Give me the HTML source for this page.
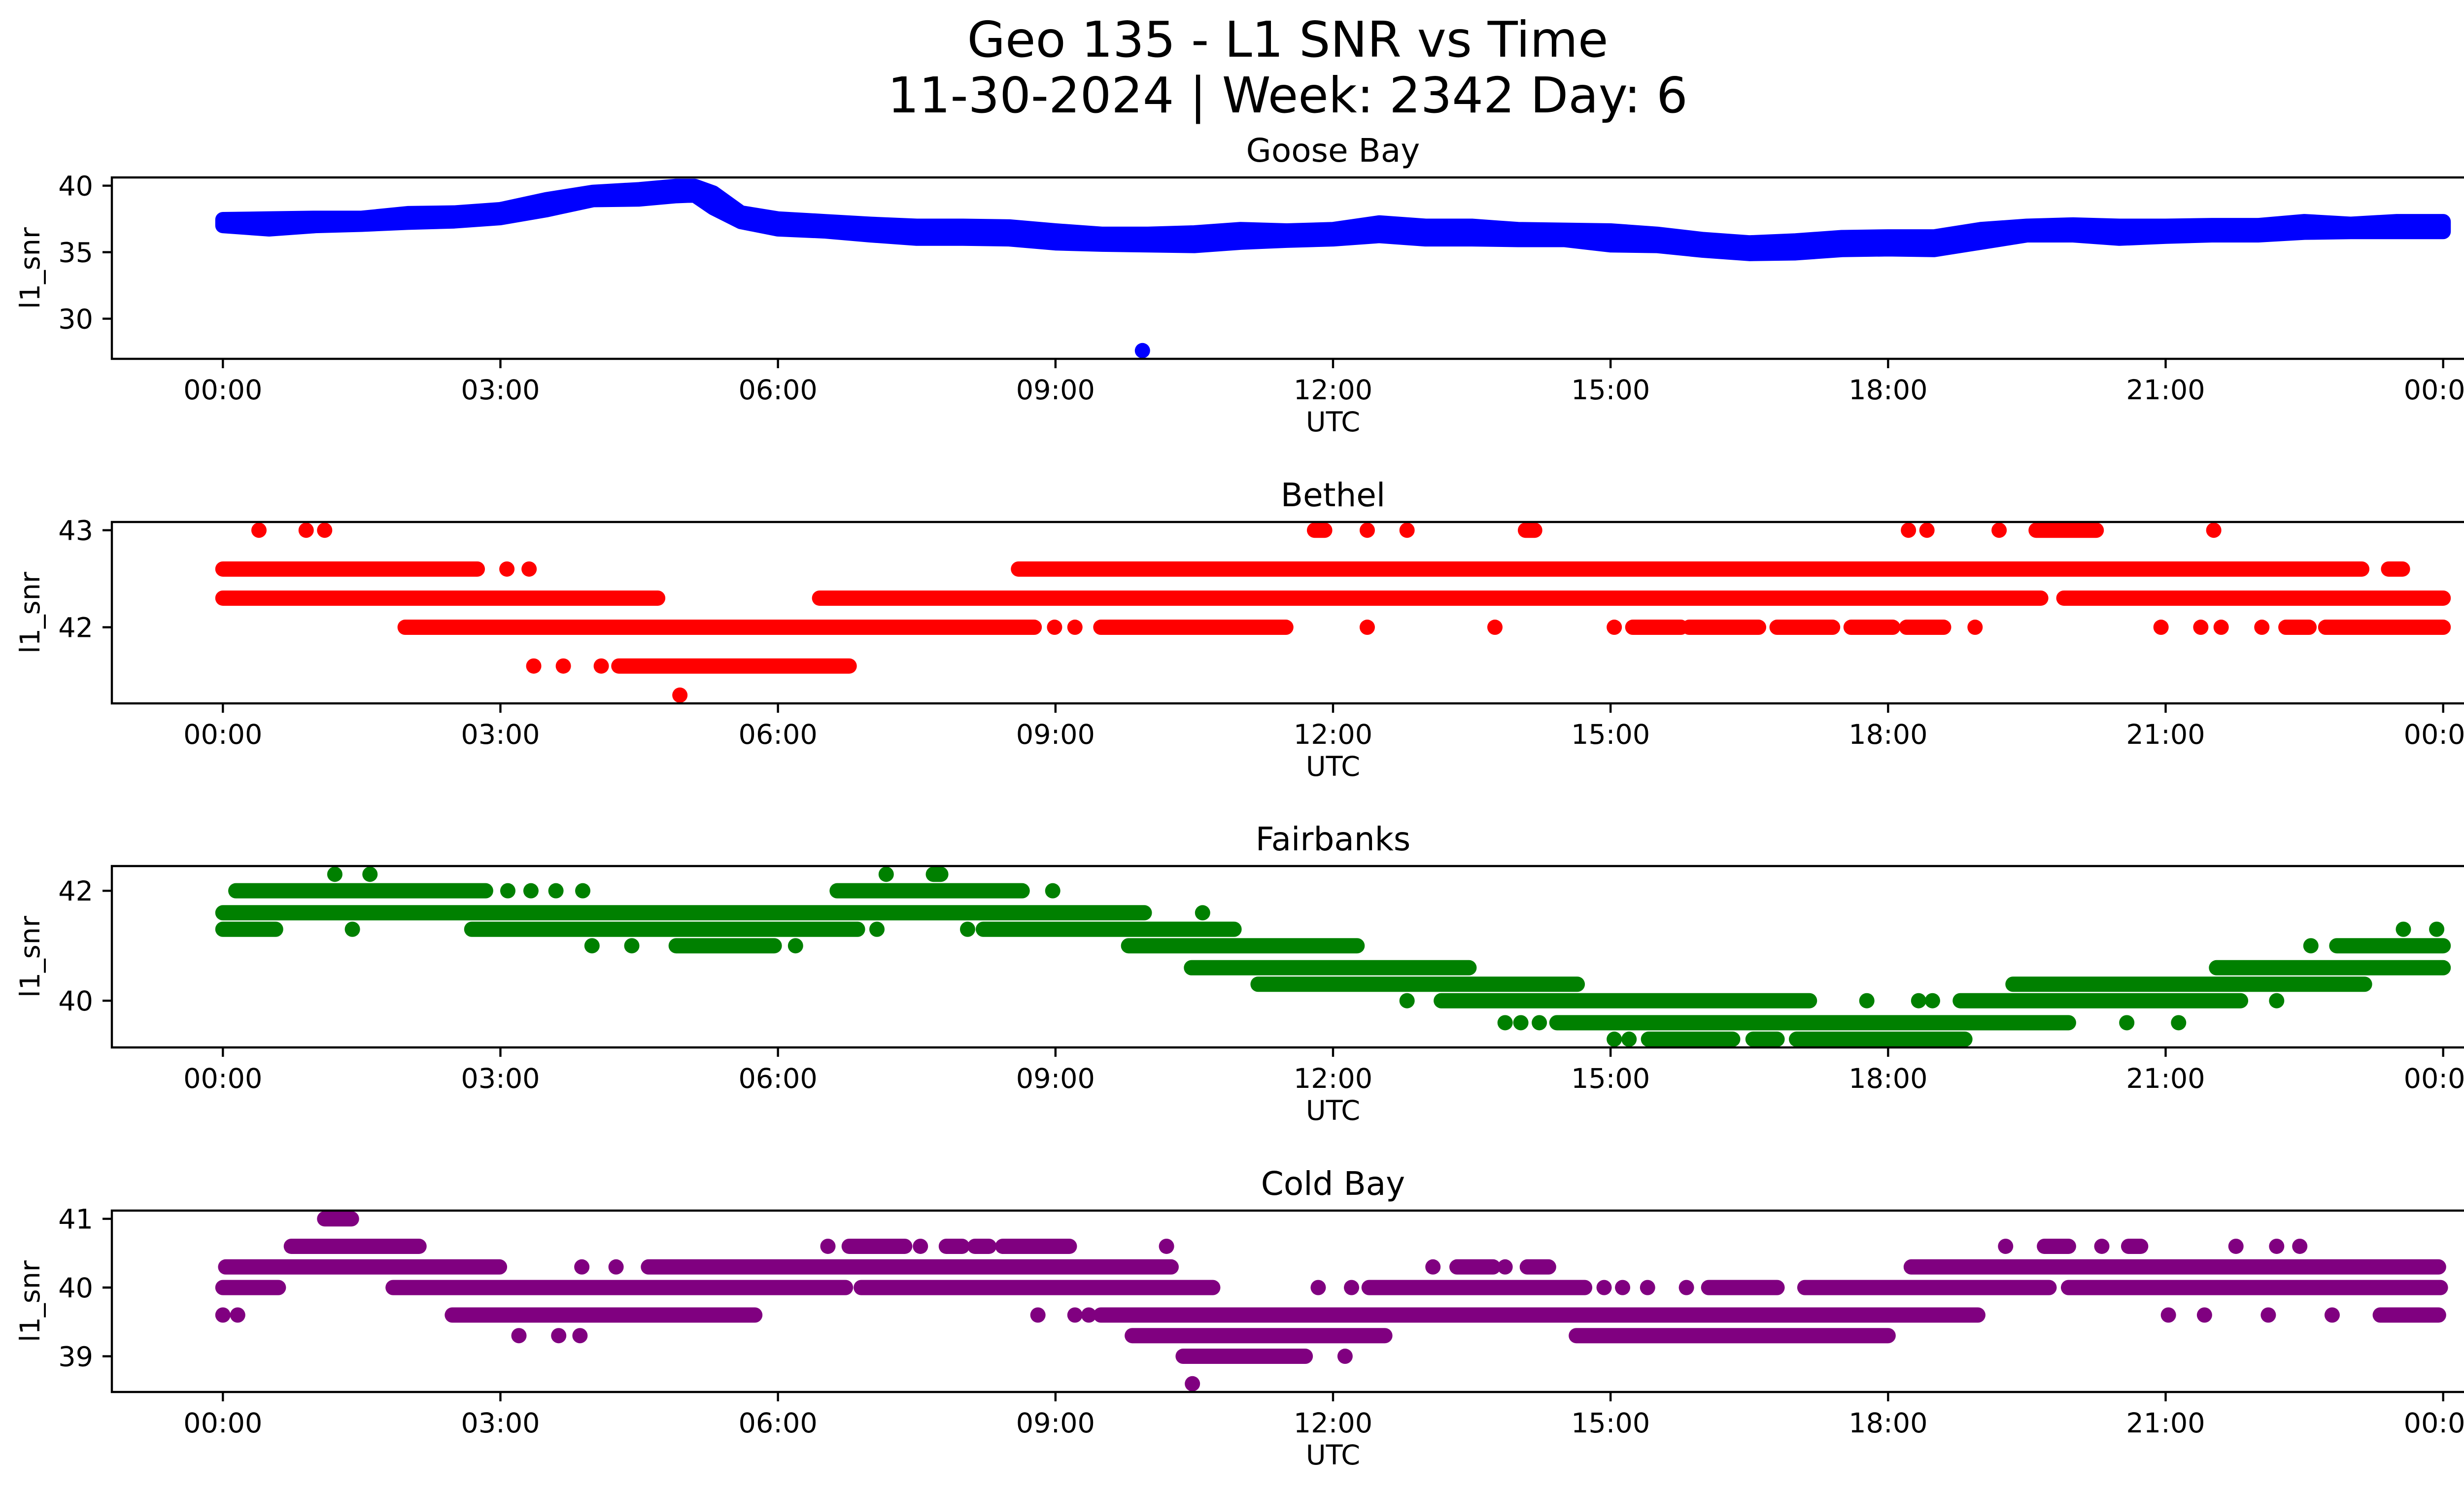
<!DOCTYPE html>
<html><head><meta charset="utf-8"><style>
html,body{margin:0;padding:0;background:#fff;}
svg{display:block;font-family:"DejaVu Sans","Liberation Sans",sans-serif;}
</style></head><body>
<svg id="fig" width="5226" height="3033" viewBox="0 0 5226 3033" xmlns="http://www.w3.org/2000/svg">
<rect width="5226" height="3033" fill="#fff"/>
<text x="2613" y="115" font-size="100" text-anchor="middle">Geo 135 - L1 SNR vs Time</text>
<text x="2613" y="228" font-size="100" text-anchor="middle">11-30-2024 | Week: 2342 Day: 6</text>
<g id="plots"></g>
</svg>
<script>
// ---- shared axis data ----
const xTickHours = [0,3,6,9,12,15,18,21,24];
const xTickLabels = ["00:00","03:00","06:00","09:00","12:00","15:00","18:00","21:00","00:00"];

// ---- Goose Bay (band envelope) ----
const gooseTimes = [0,0.5,1,1.5,2,2.5,3,3.5,4,4.5,4.9,5.1,5.3,5.6,6,6.5,7,7.5,8,8.5,9,9.5,10,10.5,11,11.5,12,12.5,13,13.5,14,14.5,15,15.5,16,16.5,17,17.5,18,18.5,19,19.5,20,20.5,21,21.5,22,22.5,23,23.5,24];
const gooseHigh = [37.45,37.5,37.55,37.55,37.9,37.95,38.2,38.95,39.5,39.7,39.95,39.95,39.45,37.95,37.5,37.3,37.1,36.95,36.95,36.9,36.6,36.35,36.35,36.45,36.7,36.6,36.7,37.2,36.95,36.95,36.7,36.65,36.6,36.35,35.95,35.7,35.85,36.1,36.15,36.15,36.7,36.95,37.05,36.95,36.95,37.0,37.0,37.3,37.1,37.3,37.3];
const gooseLow = [37.0,36.75,37.0,37.1,37.25,37.35,37.6,38.2,38.95,39.0,39.25,39.3,38.35,37.3,36.75,36.6,36.3,36.05,36.05,36.0,35.7,35.6,35.55,35.5,35.75,35.9,36.0,36.25,36.0,36.0,35.95,35.95,35.55,35.5,35.15,34.9,34.95,35.2,35.25,35.2,35.75,36.3,36.3,36.05,36.2,36.3,36.3,36.5,36.55,36.55,36.55];
const gooseOutlierTime = [9.94];
const gooseOutlierValue = [27.6];
const gooseYTicks = [30,35,40];

// ---- Bethel runs ----
const bethelStart = [0.39,0.9,1.1,11.8,12.37,12.8,14.08,18.22,18.42,19.2,19.6,21.52, 0,3.07,3.31,8.6,23.41, 0,6.45,19.9, 1.97,8.99,9.21,9.49,12.37,13.75,15.04,15.24,15.85,16.8,17.6,18.2,18.94,20.95,21.38,21.6,22.04,22.3,22.73, 3.36,3.68,4.09,4.28, 4.94];
const bethelEnd   = [0.39,0.9,1.1,11.91,12.37,12.8,14.18,18.22,18.42,19.2,20.25,21.52, 2.75,3.07,3.31,23.12,23.56, 4.7,19.65,24, 8.77,8.99,9.21,11.49,12.37,13.75,15.04,15.76,16.6,17.4,18.05,18.6,18.94,20.95,21.38,21.6,22.04,22.55,24, 3.36,3.68,4.09,6.77, 4.94];
const bethelValue = [43,43,43,43,43,43,43,43,43,43,43,43, 42.6,42.6,42.6,42.6,42.6, 42.3,42.3,42.3, 42,42,42,42,42,42,42,42,42,42,42,42,42,42,42,42,42,42,42, 41.6,41.6,41.6,41.6, 41.3];
const bethelYTicks = [42,43];

// ---- Fairbanks runs ----
const fairStart = [1.21,1.59,7.17,7.68, 0.14,3.08,3.33,3.6,3.89,6.64,8.97, 0,10.59, 0,1.4,2.69,7.07,8.05,8.22,23.57,23.93, 3.99,4.42,4.9,6.19,9.79,22.57,22.85, 10.47,21.55, 11.19,19.35, 12.8,13.17,17.77,18.33,18.48,18.78,22.2, 13.86,14.03,14.23,14.42,20.58,21.14, 15.04,15.2,15.41,16.54,17.01];
const fairEnd   = [1.21,1.59,7.17,7.76, 2.84,3.08,3.33,3.6,3.89,8.64,8.97, 9.96,10.59, 0.57,1.4,6.86,7.07,8.05,10.93,23.57,23.93, 3.99,4.42,5.96,6.19,12.26,22.57,24, 13.47,24, 14.64,23.15, 12.8,17.15,17.77,18.33,18.48,21.81,22.2, 13.86,14.03,14.23,19.95,20.58,21.14, 15.04,15.2,16.32,16.8,18.83];
const fairValue = [42.3,42.3,42.3,42.3, 42,42,42,42,42,42,42, 41.6,41.6, 41.3,41.3,41.3,41.3,41.3,41.3,41.3,41.3, 41,41,41,41,41,41,41, 40.6,40.6, 40.3,40.3, 40,40,40,40,40,40,40, 39.6,39.6,39.6,39.6,39.6,39.6, 39.3,39.3,39.3,39.3,39.3];
const fairYTicks = [40,42];

// ---- Cold Bay runs ----
const coldStart = [1.1, 0.74,6.54,6.77,7.54,7.82,8.13,8.43,10.2,19.27,19.69,20.31,20.6,21.76,22.2,22.45, 0.03,3.88,4.25,4.6,13.08,13.34,13.86,14.1,18.25, 0,1.84,6.9,11.84,12.2,12.39,14.93,15.13,15.4,15.82,16.06,17.1,19.95, 0,0.16,2.48,8.81,9.21,9.36,9.49,21.03,21.42,22.11,22.8,23.32, 3.2,3.63,3.86,9.83,14.63, 10.38,12.13, 10.48];
const coldEnd   = [1.39, 2.12,6.54,7.37,7.54,7.99,8.28,9.15,10.2,19.27,19.95,20.31,20.73,21.76,22.2,22.45, 2.99,3.88,4.25,10.25,13.08,13.73,13.86,14.33,23.95, 0.6,6.73,10.7,11.84,12.2,14.72,14.93,15.13,15.4,15.82,16.8,19.74,23.97, 0,0.16,5.75,8.81,9.21,9.36,18.97,21.03,21.42,22.11,22.8,23.95, 3.2,3.63,3.86,12.56,18.0, 11.7,12.13, 10.48];
const coldValue = [41, 40.6,40.6,40.6,40.6,40.6,40.6,40.6,40.6,40.6,40.6,40.6,40.6,40.6,40.6,40.6, 40.3,40.3,40.3,40.3,40.3,40.3,40.3,40.3,40.3, 40,40,40,40,40,40,40,40,40,40,40,40,40, 39.6,39.6,39.6,39.6,39.6,39.6,39.6,39.6,39.6,39.6,39.6,39.6, 39.3,39.3,39.3,39.3,39.3, 39,39, 38.6];
const coldYTicks = [39,40,41];

const NS = "http://www.w3.org/2000/svg";
const root = document.getElementById("plots");
const AX_L = 227, AX_R = 5183, AX_H = 368, R = 15.5;
const X_MIN = -1.2, X_MAX = 25.2;
function xScale(h){ return AX_L + (h - X_MIN) / (X_MAX - X_MIN) * (AX_R - AX_L); }
function mk(tag, attrs, parent){
  const e = document.createElementNS(NS, tag);
  for (const k in attrs) e.setAttribute(k, attrs[k]);
  parent.appendChild(e);
  return e;
}
function yScaleFor(top, lo, hi){ return v => top + (hi - v) / (hi - lo) * AX_H; }

function drawAxes(g, top, yScale, yTicks, title, key){
  const t = mk("text", {x:(AX_L+AX_R)/2, y: top-32, "font-size":66, "text-anchor":"middle"}, g);
  t.textContent = title;
  
  
  xTickHours.forEach((h,i) => {
    const x = xScale(h);
    const tk = mk("line", {x1:x, x2:x, y1:top+AX_H, y2:top+AX_H+19, stroke:"#000", "stroke-width":4.4}, g);
    
    
    const lb = mk("text", {x:x, y:top+AX_H+82, "font-size":55.6, "text-anchor":"middle"}, g);
    lb.textContent = xTickLabels[i];
    
    
  });
  yTicks.forEach(v => {
    const y = yScale(v);
    const tk = mk("line", {x1:AX_L-19, x2:AX_L, y1:y, y2:y, stroke:"#000", "stroke-width":4.4}, g);
    
    
    const lb = mk("text", {x:AX_L-38, y:y+20, "font-size":55.6, "text-anchor":"end"}, g);
    lb.textContent = String(v);
    
    
  });
  const xl = mk("text", {x:(AX_L+AX_R)/2, y: top+AX_H+147, "font-size":55.6, "text-anchor":"middle"}, g);
  xl.textContent = "UTC";
  
  
  const cy = top + AX_H/2;
  const yl = mk("text", {x:80, y:cy, "font-size":55.6, "text-anchor":"middle", transform:`rotate(-90 80 ${cy})`}, g);
  yl.textContent = "l1_snr";
  
  
  const fr = mk("rect", {x:AX_L, y:top, width:AX_R-AX_L, height:AX_H, fill:"none", stroke:"#000", "stroke-width":4.4}, g);
  
  
}

function drawRuns(g, ys, starts, ends, values, color, key){
  for (let i = 0; i < starts.length; i++){
    const y = ys(values[i]);
    if (starts[i] === ends[i]){
      const c = mk("circle", {cx:xScale(starts[i]), cy:y, r:R, fill:color}, g);
      
      
    } else {
      const l = mk("line", {x1:xScale(starts[i]), x2:xScale(ends[i]), y1:y, y2:y, stroke:color, "stroke-width":2*R, "stroke-linecap":"round"}, g);
      
      
    }
  }
}

// Goose Bay
(function(){
  const top = 360, ys = yScaleFor(top, 26.98, 40.62);
  const g = mk("g", {}, root);
  
  
  const pts = [];
  gooseTimes.forEach((t,i) => pts.push(xScale(t)+","+ys(gooseHigh[i])));
  for (let i = gooseTimes.length-1; i >= 0; i--) pts.push(xScale(gooseTimes[i])+","+ys(gooseLow[i]));
  const band = mk("polygon", {points:pts.join(" "), fill:"#0000ff", stroke:"#0000ff", "stroke-width":2*R, "stroke-linejoin":"round"}, g);
  
  
  gooseOutlierTime.forEach((t,i) => {
    const c = mk("circle", {cx:xScale(t), cy:ys(gooseOutlierValue[i]), r:R, fill:"#0000ff"}, g);
    
    
  });
  drawAxes(g, top, ys, gooseYTicks, "Goose Bay", "goose-bay");
})();

function panel(top, lo, hi, st, en, va, color, ticks, title, key){
  const ys = yScaleFor(top, lo, hi);
  const g = mk("g", {}, root);
  
  
  drawRuns(g, ys, st, en, va, color, key);
  drawAxes(g, top, ys, ticks, title, key);
}
panel(1059, 41.215, 43.085, bethelStart, bethelEnd, bethelValue, "#ff0000", bethelYTicks, "Bethel", "bethel");
panel(1757, 39.15, 42.45, fairStart, fairEnd, fairValue, "#008000", fairYTicks, "Fairbanks", "fairbanks");
panel(2456, 38.48, 41.12, coldStart, coldEnd, coldValue, "#800080", coldYTicks, "Cold Bay", "cold-bay");
</script>
</body></html>
